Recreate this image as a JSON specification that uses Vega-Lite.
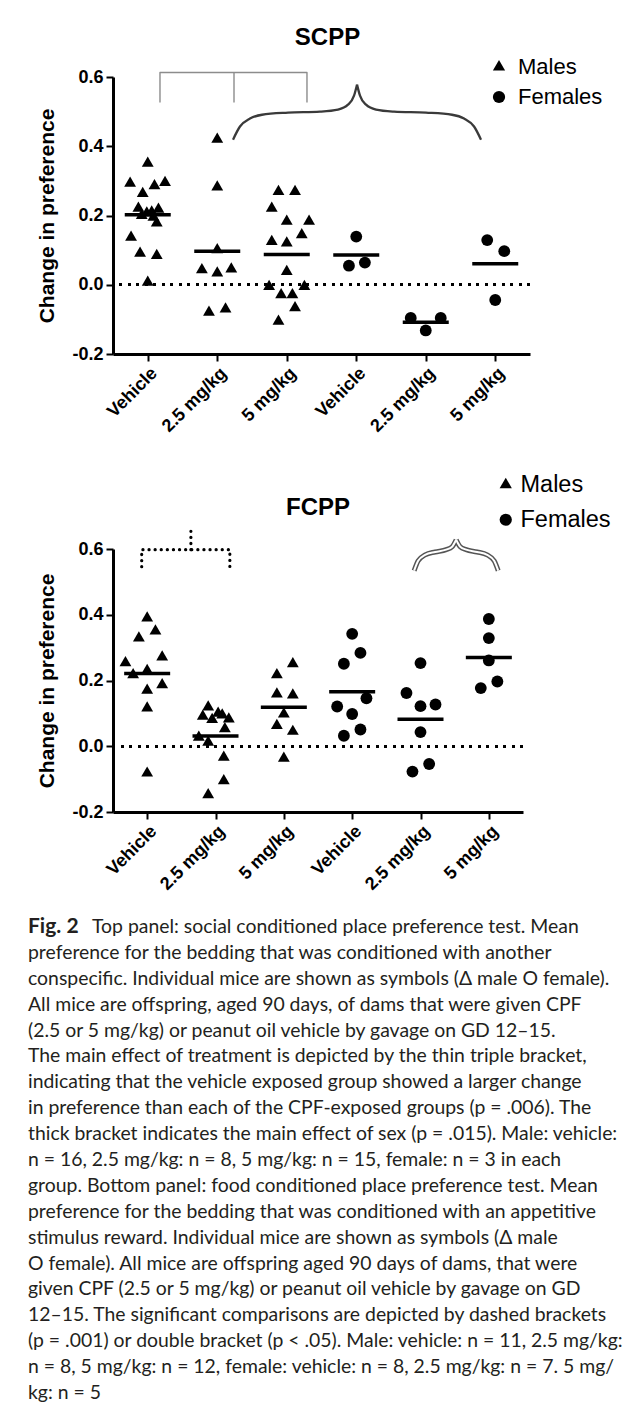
{
  "$schema": "https://vega.github.io/schema/vega-lite/v6.json",
  "background": "white",
  "padding": {"left": 28, "top": 26, "right": 5, "bottom": 5},
  "config": {
    "view": {"stroke": null},
    "font": "Liberation Sans",
    "axis": {
      "domainColor": "black", "domainWidth": 3, "tickColor": "black", "tickWidth": 2, "tickSize": 7,
      "labelFont": "Liberation Sans", "labelFontWeight": "bold", "labelFontSize": 18, "labelColor": "black",
      "titleFont": "Liberation Sans", "titleFontWeight": "bold", "titleFontSize": 21, "titleColor": "black",
      "grid": false
    },
    "legend": {
      "title": null, "labelFont": "Liberation Sans", "labelColor": "black", "symbolFillColor": "black",
      "symbolStrokeWidth": 0, "symbolSize": 150, "padding": 0
    },
    "title": {"font": "Liberation Sans", "fontWeight": "bold", "color": "black"}
  },
  "datasets": {
    "scpp": [
      {"g": "M: Vehicle", "sex": "Males", "v": 0.351, "j": 0},
      {"g": "M: Vehicle", "sex": "Males", "v": 0.293, "j": -1.47},
      {"g": "M: Vehicle", "sex": "Males", "v": 0.286, "j": 0.56},
      {"g": "M: Vehicle", "sex": "Males", "v": 0.295, "j": 1.44},
      {"g": "M: Vehicle", "sex": "Males", "v": 0.263, "j": -0.42},
      {"g": "M: Vehicle", "sex": "Males", "v": 0.221, "j": -0.78},
      {"g": "M: Vehicle", "sex": "Males", "v": 0.218, "j": 0.89},
      {"g": "M: Vehicle", "sex": "Males", "v": 0.207, "j": -0.08},
      {"g": "M: Vehicle", "sex": "Males", "v": 0.2, "j": -0.5},
      {"g": "M: Vehicle", "sex": "Males", "v": 0.21, "j": 0.33},
      {"g": "M: Vehicle", "sex": "Males", "v": 0.195, "j": 0.47},
      {"g": "M: Vehicle", "sex": "Males", "v": 0.178, "j": 0.75},
      {"g": "M: Vehicle", "sex": "Males", "v": 0.137, "j": -1.39},
      {"g": "M: Vehicle", "sex": "Males", "v": 0.091, "j": -0.64},
      {"g": "M: Vehicle", "sex": "Males", "v": 0.084, "j": 0.75},
      {"g": "M: Vehicle", "sex": "Males", "v": 0.007, "j": 0},
      {"g": "M: 2.5 mg/kg", "sex": "Males", "v": 0.42, "j": 0},
      {"g": "M: 2.5 mg/kg", "sex": "Males", "v": 0.282, "j": 0},
      {"g": "M: 2.5 mg/kg", "sex": "Males", "v": 0.101, "j": 0},
      {"g": "M: 2.5 mg/kg", "sex": "Males", "v": 0.043, "j": -1.28},
      {"g": "M: 2.5 mg/kg", "sex": "Males", "v": 0.034, "j": 0},
      {"g": "M: 2.5 mg/kg", "sex": "Males", "v": 0.045, "j": 1.17},
      {"g": "M: 2.5 mg/kg", "sex": "Males", "v": -0.08, "j": -0.69},
      {"g": "M: 2.5 mg/kg", "sex": "Males", "v": -0.07, "j": 0.69},
      {"g": "M: 5 mg/kg", "sex": "Males", "v": 0.269, "j": -0.69},
      {"g": "M: 5 mg/kg", "sex": "Males", "v": 0.269, "j": 0.69},
      {"g": "M: 5 mg/kg", "sex": "Males", "v": 0.221, "j": -1.25},
      {"g": "M: 5 mg/kg", "sex": "Males", "v": 0.183, "j": 0},
      {"g": "M: 5 mg/kg", "sex": "Males", "v": 0.183, "j": 1.86},
      {"g": "M: 5 mg/kg", "sex": "Males", "v": 0.144, "j": 1.25},
      {"g": "M: 5 mg/kg", "sex": "Males", "v": 0.125, "j": -1.25},
      {"g": "M: 5 mg/kg", "sex": "Males", "v": 0.12, "j": 0},
      {"g": "M: 5 mg/kg", "sex": "Males", "v": 0.038, "j": 0},
      {"g": "M: 5 mg/kg", "sex": "Males", "v": -0.005, "j": -1.47},
      {"g": "M: 5 mg/kg", "sex": "Males", "v": -0.005, "j": 1.47},
      {"g": "M: 5 mg/kg", "sex": "Males", "v": -0.029, "j": -0.47},
      {"g": "M: 5 mg/kg", "sex": "Males", "v": -0.029, "j": 0.47},
      {"g": "M: 5 mg/kg", "sex": "Males", "v": -0.067, "j": 0.69},
      {"g": "M: 5 mg/kg", "sex": "Males", "v": -0.106, "j": -0.69},
      {"g": "F: Vehicle", "sex": "Females", "v": 0.139, "j": 0},
      {"g": "F: Vehicle", "sex": "Females", "v": 0.055, "j": -0.61},
      {"g": "F: Vehicle", "sex": "Females", "v": 0.064, "j": 0.72},
      {"g": "F: 2.5 mg/kg", "sex": "Females", "v": -0.096, "j": -1.25},
      {"g": "F: 2.5 mg/kg", "sex": "Females", "v": -0.096, "j": 1.25},
      {"g": "F: 2.5 mg/kg", "sex": "Females", "v": -0.132, "j": 0},
      {"g": "F: 5 mg/kg", "sex": "Females", "v": 0.129, "j": -0.67},
      {"g": "F: 5 mg/kg", "sex": "Females", "v": 0.097, "j": 0.75},
      {"g": "F: 5 mg/kg", "sex": "Females", "v": -0.044, "j": 0}
    ],
    "fcpp": [
      {"g": "M: Vehicle", "sex": "Males", "v": 0.39, "j": 0},
      {"g": "M: Vehicle", "sex": "Males", "v": 0.329, "j": -0.69},
      {"g": "M: Vehicle", "sex": "Males", "v": 0.35, "j": 0.69},
      {"g": "M: Vehicle", "sex": "Males", "v": 0.271, "j": 1.25},
      {"g": "M: Vehicle", "sex": "Males", "v": 0.254, "j": -1.81},
      {"g": "M: Vehicle", "sex": "Males", "v": 0.217, "j": -1.17},
      {"g": "M: Vehicle", "sex": "Males", "v": 0.23, "j": 0},
      {"g": "M: Vehicle", "sex": "Males", "v": 0.187, "j": 1.25},
      {"g": "M: Vehicle", "sex": "Males", "v": 0.17, "j": 0},
      {"g": "M: Vehicle", "sex": "Males", "v": 0.116, "j": 0},
      {"g": "M: Vehicle", "sex": "Males", "v": -0.082, "j": 0},
      {"g": "M: 2.5 mg/kg", "sex": "Males", "v": 0.119, "j": -0.61},
      {"g": "M: 2.5 mg/kg", "sex": "Males", "v": 0.091, "j": -1.06},
      {"g": "M: 2.5 mg/kg", "sex": "Males", "v": 0.081, "j": -0.28},
      {"g": "M: 2.5 mg/kg", "sex": "Males", "v": 0.095, "j": 0.56},
      {"g": "M: 2.5 mg/kg", "sex": "Males", "v": 0.083, "j": 1.11},
      {"g": "M: 2.5 mg/kg", "sex": "Males", "v": 0.053, "j": 0.78},
      {"g": "M: 2.5 mg/kg", "sex": "Males", "v": 0.027, "j": -1.39},
      {"g": "M: 2.5 mg/kg", "sex": "Males", "v": 0.012, "j": -0.61},
      {"g": "M: 2.5 mg/kg", "sex": "Males", "v": -0.034, "j": 0.69},
      {"g": "M: 2.5 mg/kg", "sex": "Males", "v": -0.105, "j": 0.69},
      {"g": "M: 2.5 mg/kg", "sex": "Males", "v": -0.148, "j": -0.61},
      {"g": "M: 2.5 mg/kg", "sex": "Males", "v": 0.1, "j": 0.22},
      {"g": "M: 5 mg/kg", "sex": "Males", "v": 0.251, "j": 0.75},
      {"g": "M: 5 mg/kg", "sex": "Males", "v": 0.217, "j": -0.58},
      {"g": "M: 5 mg/kg", "sex": "Males", "v": 0.159, "j": -0.58},
      {"g": "M: 5 mg/kg", "sex": "Males", "v": 0.156, "j": 0.75},
      {"g": "M: 5 mg/kg", "sex": "Males", "v": 0.098, "j": 0},
      {"g": "M: 5 mg/kg", "sex": "Males", "v": 0.063, "j": -0.58},
      {"g": "M: 5 mg/kg", "sex": "Males", "v": 0.045, "j": 0.75},
      {"g": "M: 5 mg/kg", "sex": "Males", "v": -0.037, "j": 0},
      {"g": "F: Vehicle", "sex": "Females", "v": 0.342, "j": 0},
      {"g": "F: Vehicle", "sex": "Females", "v": 0.284, "j": 0.69},
      {"g": "F: Vehicle", "sex": "Females", "v": 0.251, "j": -0.69},
      {"g": "F: Vehicle", "sex": "Females", "v": 0.146, "j": 1.19},
      {"g": "F: Vehicle", "sex": "Females", "v": 0.121, "j": -1.25},
      {"g": "F: Vehicle", "sex": "Females", "v": 0.098, "j": 0},
      {"g": "F: Vehicle", "sex": "Females", "v": 0.051, "j": 0.69},
      {"g": "F: Vehicle", "sex": "Females", "v": 0.032, "j": -0.69},
      {"g": "F: 2.5 mg/kg", "sex": "Females", "v": 0.253, "j": 0},
      {"g": "F: 2.5 mg/kg", "sex": "Females", "v": 0.162, "j": -1.17},
      {"g": "F: 2.5 mg/kg", "sex": "Females", "v": 0.122, "j": 0},
      {"g": "F: 2.5 mg/kg", "sex": "Females", "v": 0.127, "j": 1.25},
      {"g": "F: 2.5 mg/kg", "sex": "Females", "v": 0.043, "j": 0},
      {"g": "F: 2.5 mg/kg", "sex": "Females", "v": -0.054, "j": 0.72},
      {"g": "F: 2.5 mg/kg", "sex": "Females", "v": -0.077, "j": -0.67},
      {"g": "F: 5 mg/kg", "sex": "Females", "v": 0.387, "j": 0},
      {"g": "F: 5 mg/kg", "sex": "Females", "v": 0.329, "j": 0},
      {"g": "F: 5 mg/kg", "sex": "Females", "v": 0.261, "j": 0},
      {"g": "F: 5 mg/kg", "sex": "Females", "v": 0.197, "j": 0.71},
      {"g": "F: 5 mg/kg", "sex": "Females", "v": 0.177, "j": -0.67}
    ],
    "bracketTop": [
      {"part": "a", "i": 1, "bx": 0.676, "by": 0.526},
      {"part": "a", "i": 2, "bx": 0.676, "by": 0.613},
      {"part": "a", "i": 3, "bx": 2.791, "by": 0.613},
      {"part": "a", "i": 4, "bx": 2.791, "by": 0.526},
      {"part": "b", "i": 1, "bx": 1.741, "by": 0.613},
      {"part": "b", "i": 2, "bx": 1.741, "by": 0.526}
    ],
    "braceTop": [
      {"part": "L", "i": 1, "bx": 1.727, "by": 0.419},
      {"part": "L", "i": 2, "bx": 1.827, "by": 0.457},
      {"part": "L", "i": 3, "bx": 1.971, "by": 0.48},
      {"part": "L", "i": 4, "bx": 2.144, "by": 0.491},
      {"part": "L", "i": 5, "bx": 2.518, "by": 0.497},
      {"part": "L", "i": 6, "bx": 2.978, "by": 0.5},
      {"part": "L", "i": 7, "bx": 3.237, "by": 0.506},
      {"part": "L", "i": 8, "bx": 3.381, "by": 0.52},
      {"part": "L", "i": 9, "bx": 3.468, "by": 0.546},
      {"part": "L", "i": 10, "bx": 3.511, "by": 0.578},
      {"part": "R", "i": 1, "bx": 3.511, "by": 0.578},
      {"part": "R", "i": 2, "bx": 3.554, "by": 0.546},
      {"part": "R", "i": 3, "bx": 3.641, "by": 0.52},
      {"part": "R", "i": 4, "bx": 3.785, "by": 0.506},
      {"part": "R", "i": 5, "bx": 4.044, "by": 0.5},
      {"part": "R", "i": 6, "bx": 4.504, "by": 0.497},
      {"part": "R", "i": 7, "bx": 4.878, "by": 0.491},
      {"part": "R", "i": 8, "bx": 5.051, "by": 0.48},
      {"part": "R", "i": 9, "bx": 5.195, "by": 0.457},
      {"part": "R", "i": 10, "bx": 5.295, "by": 0.419}
    ],
    "bracketBot": [
      {"part": "a", "i": 1, "bx": 0.42, "by": 0.546},
      {"part": "a", "i": 2, "bx": 0.42, "by": 0.598},
      {"part": "a", "i": 3, "bx": 1.71, "by": 0.598},
      {"part": "a", "i": 4, "bx": 1.71, "by": 0.546},
      {"part": "b", "i": 1, "bx": 1.14, "by": 0.598},
      {"part": "b", "i": 2, "bx": 1.14, "by": 0.655}
    ],
    "braceBot": [
      {"part": "L", "i": 1, "bx": 4.407, "by": 0.534},
      {"part": "L", "i": 2, "bx": 4.466, "by": 0.564},
      {"part": "L", "i": 3, "bx": 4.568, "by": 0.582},
      {"part": "L", "i": 4, "bx": 4.715, "by": 0.591},
      {"part": "L", "i": 5, "bx": 4.876, "by": 0.598},
      {"part": "L", "i": 6, "bx": 4.963, "by": 0.607},
      {"part": "L", "i": 7, "bx": 5.022, "by": 0.628},
      {"part": "R", "i": 1, "bx": 5.022, "by": 0.628},
      {"part": "R", "i": 2, "bx": 5.081, "by": 0.607},
      {"part": "R", "i": 3, "bx": 5.168, "by": 0.598},
      {"part": "R", "i": 4, "bx": 5.329, "by": 0.591},
      {"part": "R", "i": 5, "bx": 5.476, "by": 0.582},
      {"part": "R", "i": 6, "bx": 5.578, "by": 0.564},
      {"part": "R", "i": 7, "bx": 5.637, "by": 0.534}
    ],
    "captionFirst": [
      {"line": 1, "text": "Top panel: social conditioned place preference test. Mean"}
    ],
    "captionLabel": [
      {"line": 1, "text": "Fig. 2"}
    ],
    "caption": [
      {"line": 2, "text": "preference for the bedding that was conditioned with another"},
      {"line": 3, "text": "conspecific. Individual mice are shown as symbols (Δ male O female)."},
      {"line": 4, "text": "All mice are offspring, aged 90 days, of dams that were given CPF"},
      {"line": 5, "text": "(2.5 or 5 mg/kg) or peanut oil vehicle by gavage on GD 12–15."},
      {"line": 6, "text": "The main effect of treatment is depicted by the thin triple bracket,"},
      {"line": 7, "text": "indicating that the vehicle exposed group showed a larger change"},
      {"line": 8, "text": "in preference than each of the CPF-exposed groups (p = .006). The"},
      {"line": 9, "text": "thick bracket indicates the main effect of sex (p = .015). Male: vehicle:"},
      {"line": 10, "text": "n = 16, 2.5 mg/kg: n = 8, 5 mg/kg: n = 15, female: n = 3 in each"},
      {"line": 11, "text": "group. Bottom panel: food conditioned place preference test. Mean"},
      {"line": 12, "text": "preference for the bedding that was conditioned with an appetitive"},
      {"line": 13, "text": "stimulus reward. Individual mice are shown as symbols (Δ male"},
      {"line": 14, "text": "O female). All mice are offspring aged 90 days of dams, that were"},
      {"line": 15, "text": "given CPF (2.5 or 5 mg/kg) or peanut oil vehicle by gavage on GD"},
      {"line": 16, "text": "12–15. The significant comparisons are depicted by dashed brackets"},
      {"line": 17, "text": "(p = .001) or double bracket (p < .05). Male: vehicle: n = 11, 2.5 mg/kg:"},
      {"line": 18, "text": "n = 8, 5 mg/kg: n = 12, female: vehicle: n = 8, 2.5 mg/kg: n = 7. 5 mg/"},
      {"line": 19, "text": "kg: n = 5"}
    ]
  },
  "spacing": 22,
  "resolve": {"scale": {"shape": "independent"}, "legend": {"shape": "independent"}},
  "vconcat": [
    {
      "spacing": 37,
      "resolve": {"scale": {"shape": "independent"}, "legend": {"shape": "independent"}},
      "vconcat": [
        {
          "width": 417,
          "height": 277,
          "title": {"text": "SCPP", "fontSize": 24, "anchor": "middle", "offset": 6, "dx": 6},
          "resolve": {"scale": {"x": "independent"}},
          "layer": [
            {
              "data": {"name": "scpp"},
              "layer": [
                {
                  "mark": {"type": "rule", "color": "black", "strokeWidth": 2.5, "strokeDash": [2.5, 6]},
                  "encoding": {"y": {"datum": 0, "type": "quantitative"}}
                },
                {
                  "mark": {"type": "point", "filled": true, "color": "black", "opacity": 1, "size": 140, "strokeWidth": 0},
                  "encoding": {
                    "x": {
                      "field": "g", "type": "nominal",
                      "scale": {"type": "point", "padding": 0.5, "domain": ["M: Vehicle", "M: 2.5 mg/kg", "M: 5 mg/kg", "F: Vehicle", "F: 2.5 mg/kg", "F: 5 mg/kg"]},
                      "axis": {"title": null, "labelAngle": -45, "labelExpr": "split(datum.label, ': ')[1]", "labelPadding": 3}
                    },
                    "xOffset": {"field": "j", "type": "quantitative", "scale": {"domain": [-2, 2], "range": [-24, 24]}},
                    "y": {
                      "field": "v", "type": "quantitative",
                      "scale": {"domain": [-0.2, 0.6], "nice": false, "zero": false},
                      "axis": {"title": "Change in preference", "values": [-0.2, 0, 0.2, 0.4, 0.6], "labelExpr": "replace(format(datum.value, '.1f'), '−', '-')", "titlePadding": 14, "labelPadding": 3}
                    },
                    "shape": {
                      "field": "sex", "type": "nominal",
                      "scale": {"domain": ["Males", "Females"], "range": ["triangle", "circle"]},
                      "legend": {"orient": "none", "legendX": 375, "legendY": -21, "labelFontSize": 22, "rowPadding": 8, "labelOffset": 8}
                    }
                  }
                },
                {
                  "mark": {"type": "tick", "color": "black", "size": 46, "thickness": 3.5},
                  "encoding": {
                    "x": {"field": "g", "type": "nominal"},
                    "y": {"aggregate": "mean", "field": "v", "type": "quantitative"}
                  }
                }
              ]
            },
            {
              "layer": [
                {
                  "data": {"name": "bracketTop"},
                  "mark": {"type": "line", "color": "#8c8c8c", "strokeWidth": 1.4, "strokeJoin": "round"},
                  "encoding": {
                    "x": {"field": "bx", "type": "quantitative", "scale": {"domain": [0, 6], "nice": false, "zero": false}, "axis": null},
                    "y": {"field": "by", "type": "quantitative"},
                    "detail": {"field": "part"},
                    "order": {"field": "i"}
                  }
                },
                {
                  "data": {"name": "braceTop"},
                  "mark": {"type": "line", "color": "#3a3a3a", "strokeWidth": 2.3, "interpolate": "monotone"},
                  "encoding": {
                    "x": {"field": "bx", "type": "quantitative"},
                    "y": {"field": "by", "type": "quantitative"},
                    "detail": {"field": "part"},
                    "order": {"field": "i"}
                  }
                }
              ]
            }
          ]
        },
        {
          "width": 410,
          "height": 263,
          "title": {"text": "FCPP", "fontSize": 24, "anchor": "middle", "offset": -47},
          "resolve": {"scale": {"x": "independent"}},
          "layer": [
            {
              "data": {"name": "fcpp"},
              "layer": [
                {
                  "mark": {"type": "rule", "color": "black", "strokeWidth": 2.5, "strokeDash": [2.5, 6]},
                  "encoding": {"y": {"datum": 0, "type": "quantitative"}}
                },
                {
                  "mark": {"type": "point", "filled": true, "color": "black", "opacity": 1, "size": 140, "strokeWidth": 0},
                  "encoding": {
                    "x": {
                      "field": "g", "type": "nominal",
                      "scale": {"type": "point", "padding": 0.5, "domain": ["M: Vehicle", "M: 2.5 mg/kg", "M: 5 mg/kg", "F: Vehicle", "F: 2.5 mg/kg", "F: 5 mg/kg"]},
                      "axis": {"title": null, "labelAngle": -45, "labelExpr": "split(datum.label, ': ')[1]", "labelPadding": 3}
                    },
                    "xOffset": {"field": "j", "type": "quantitative", "scale": {"domain": [-2, 2], "range": [-24, 24]}},
                    "y": {
                      "field": "v", "type": "quantitative",
                      "scale": {"domain": [-0.2, 0.6], "nice": false, "zero": false},
                      "axis": {"title": "Change in preference", "values": [-0.2, 0, 0.2, 0.4, 0.6], "labelExpr": "replace(format(datum.value, '.1f'), '−', '-')", "titlePadding": 14, "labelPadding": 3}
                    },
                    "shape": {
                      "field": "sex", "type": "nominal",
                      "scale": {"domain": ["Males", "Females"], "range": ["triangle", "circle"]},
                      "legend": {"orient": "none", "legendX": 381, "legendY": -76, "labelFontSize": 23.5, "rowPadding": 10, "labelOffset": 3}
                    }
                  }
                },
                {
                  "mark": {"type": "tick", "color": "black", "size": 46, "thickness": 3.5},
                  "encoding": {
                    "x": {"field": "g", "type": "nominal"},
                    "y": {"aggregate": "mean", "field": "v", "type": "quantitative"}
                  }
                }
              ]
            },
            {
              "layer": [
                {
                  "data": {"name": "bracketBot"},
                  "mark": {"type": "line", "color": "black", "strokeWidth": 3.2, "strokeDash": [0.1, 6], "strokeCap": "round"},
                  "encoding": {
                    "x": {"field": "bx", "type": "quantitative", "scale": {"domain": [0, 6], "nice": false, "zero": false}, "axis": null},
                    "y": {"field": "by", "type": "quantitative"},
                    "detail": {"field": "part"},
                    "order": {"field": "i"}
                  }
                },
                {
                  "data": {"name": "braceBot"},
                  "mark": {"type": "line", "color": "#555555", "strokeWidth": 5, "interpolate": "monotone"},
                  "encoding": {
                    "x": {"field": "bx", "type": "quantitative"},
                    "y": {"field": "by", "type": "quantitative"},
                    "detail": {"field": "part"},
                    "order": {"field": "i"}
                  }
                },
                {
                  "data": {"name": "braceBot"},
                  "mark": {"type": "line", "color": "white", "strokeWidth": 2, "interpolate": "monotone"},
                  "encoding": {
                    "x": {"field": "bx", "type": "quantitative"},
                    "y": {"field": "by", "type": "quantitative"},
                    "detail": {"field": "part"},
                    "order": {"field": "i"}
                  }
                }
              ]
            }
          ]
        }
      ]
    },
    {
      "width": 500,
      "height": 466,
      "layer": [
        {
          "data": {"name": "caption"},
          "mark": {"type": "text", "align": "left", "baseline": "middle", "font": "Lato", "fontSize": 19.4, "color": "#231f20", "dx": -85},
          "encoding": {
            "x": {"value": 0},
            "y": {"field": "line", "type": "quantitative", "scale": {"domain": [1, 19], "nice": false, "zero": false, "reverse": true}, "axis": null},
            "text": {"field": "text"}
          }
        },
        {
          "data": {"name": "captionFirst"},
          "mark": {"type": "text", "align": "left", "baseline": "middle", "font": "Lato", "fontSize": 19.4, "color": "#231f20", "dx": -21},
          "encoding": {
            "x": {"value": 0},
            "y": {"field": "line", "type": "quantitative"},
            "text": {"field": "text"}
          }
        },
        {
          "data": {"name": "captionLabel"},
          "mark": {"type": "text", "align": "left", "baseline": "middle", "font": "Lato", "fontSize": 21, "fontWeight": "bold", "color": "#231f20", "dx": -85},
          "encoding": {
            "x": {"value": 0},
            "y": {"field": "line", "type": "quantitative"},
            "text": {"field": "text"}
          }
        }
      ]
    }
  ]
}
